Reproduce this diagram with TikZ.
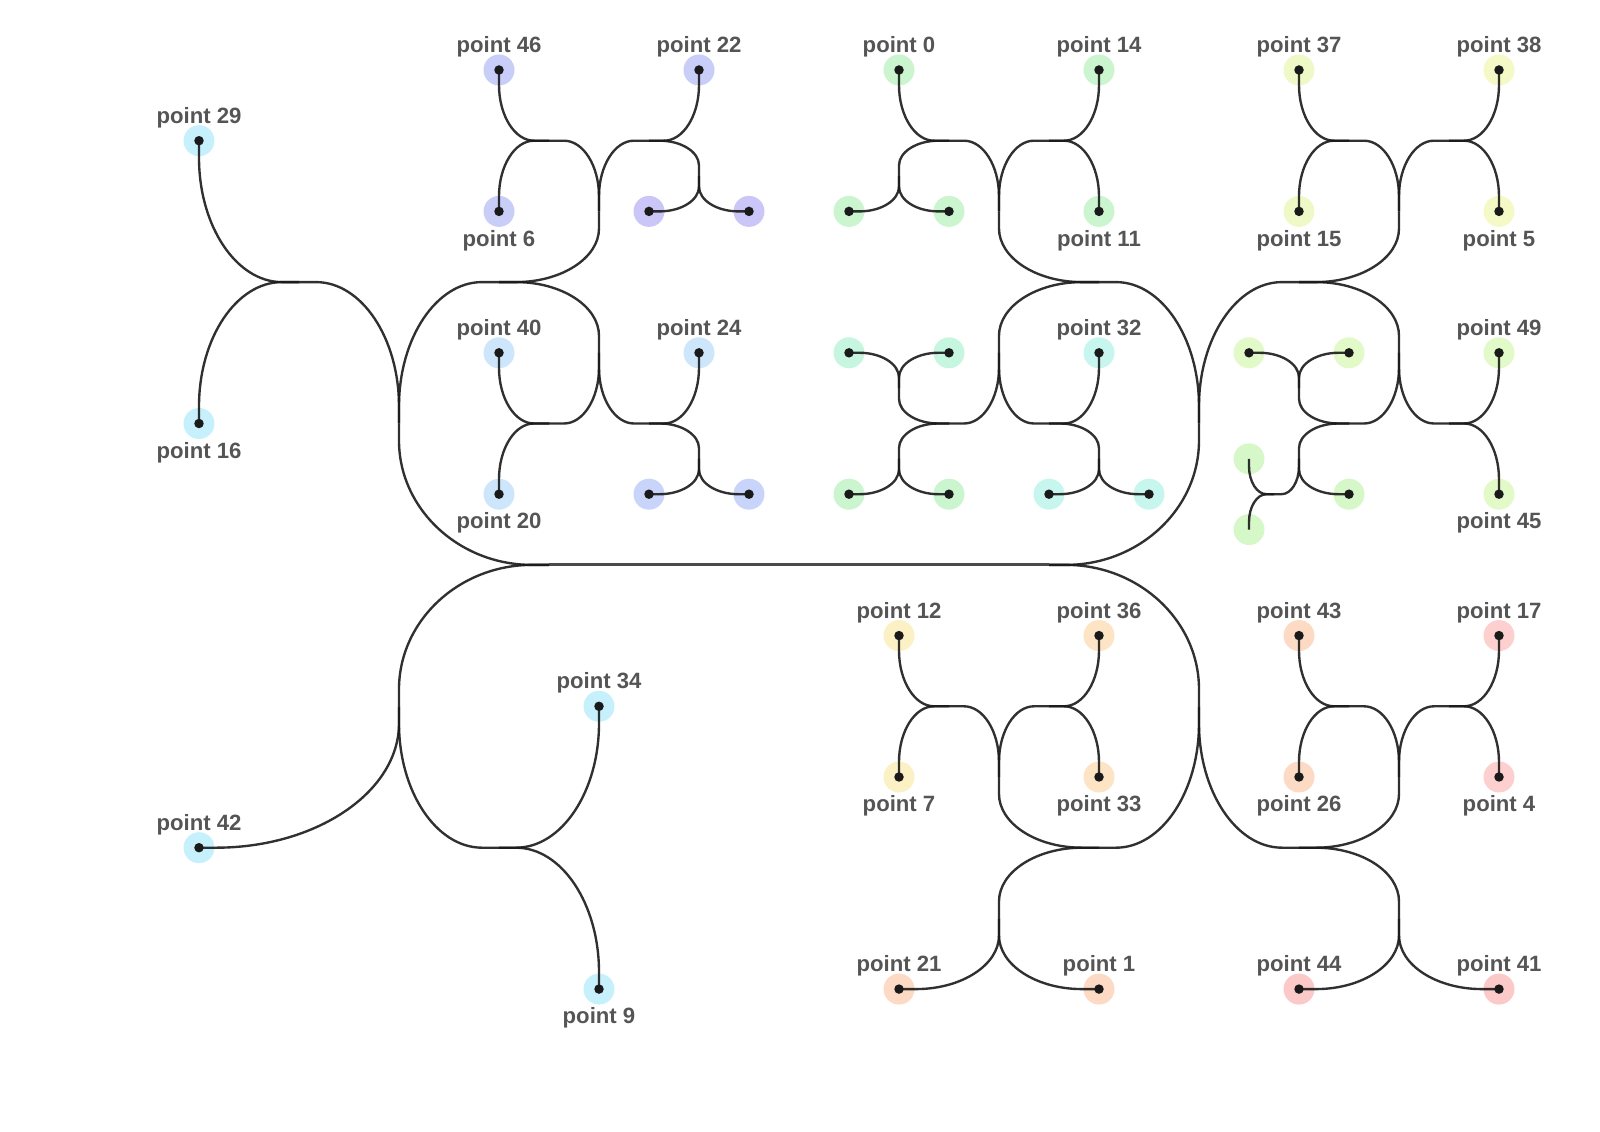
\documentclass[tikz,border=0pt]{standalone}
\usepackage{fontspec}
\setmainfont{Liberation Sans}
\usetikzlibrary{calc}

\definecolor{linkcol}{HTML}{1A1A1A}
\definecolor{rootcol}{HTML}{4A4A4A}
\definecolor{lblcol}{HTML}{555555}
\definecolor{hcyan}{HTML}{C6F0FB}
\definecolor{hlav}{HTML}{C9CEF9}
\definecolor{hpur}{HTML}{CBC6F8}
\definecolor{hsky}{HTML}{CDE6FB}
\definecolor{hperi}{HTML}{C9D4FA}
\definecolor{hgreen}{HTML}{CAF5CF}
\definecolor{hmint}{HTML}{C6F6DF}
\definecolor{hteal}{HTML}{C6F6EE}
\definecolor{hlime}{HTML}{EFF9C8}
\definecolor{hyell}{HTML}{F5F9C6}
\definecolor{hlgreen}{HTML}{E2F9C8}
\definecolor{hkgreen}{HTML}{D6F8C9}
\definecolor{hsand}{HTML}{FCF1C4}
\definecolor{hpeach}{HTML}{FDE4C4}
\definecolor{horange}{HTML}{FDDAC4}
\definecolor{hpink}{HTML}{FDD0CF}
\definecolor{hred}{HTML}{FCC9C9}

\def\stubmax{0.34cm}
% link that leaves #1 horizontally and reaches #2 vertically
\newcommand{\hvlink}[2]{%
  \draw[link] let \p1=(#1.center), \p2=(#2.center), \p3=(\x2,\y1),
    \n1={min(\stubmax,0.3*min(abs((\x2)-(\x1)),abs((\y2)-(\y1))))} in
    (\p1) -- ($(\p1)!\n1!(\p3)$)
    .. controls ($(\p1)!\n1!(\p3)!0.55!(\p3)$) and ($(\p2)!\n1!(\p3)!0.55!(\p3)$)
    .. ($(\p2)!\n1!(\p3)$) -- (\p2);}
% link that leaves #1 vertically and reaches #2 horizontally
\newcommand{\vhlink}[2]{%
  \draw[link] let \p1=(#1.center), \p2=(#2.center), \p3=(\x1,\y2),
    \n1={min(\stubmax,0.3*min(abs((\x2)-(\x1)),abs((\y2)-(\y1))))} in
    (\p1) -- ($(\p1)!\n1!(\p3)$)
    .. controls ($(\p1)!\n1!(\p3)!0.55!(\p3)$) and ($(\p2)!\n1!(\p3)!0.55!(\p3)$)
    .. ($(\p2)!\n1!(\p3)$) -- (\p2);}

\begin{document}
\begin{tikzpicture}
[
	x=1cm, y=-1.414cm,
	link/.style={draw=linkcol, line width=1.35pt, draw opacity=0.9},
	trunk/.style={draw=rootcol, line width=1.7pt},
	dotpt/.style={circle, inner sep=0pt, minimum size=0.62cm, fill=#1,
		path picture={\fill[linkcol] (path picture bounding box.center) circle (0.095cm);}},
	hollowpt/.style={circle, inner sep=0pt, minimum size=0.62cm, fill=#1},
	lbl/.style={font=\bfseries\fontsize{12.6}{14}\selectfont, text=lblcol, inner sep=0pt},
	lblup/.style={label={[lbl, label distance=-0.07cm]above:#1}},
	lbldn/.style={label={[lbl, label distance=0.05cm]below:#1}}
]
	\useasboundingbox (-3.98,-0.99) rectangle (28.02,15.02);

	% left column
	\node[dotpt=hcyan, lblup={point 29}] (p29) at (0,1) {};
	\node[dotpt=hcyan, lbldn={point 16}] (p16) at (0,5) {};
	\node[dotpt=hcyan, lblup={point 42}] (p42) at (0,11) {};
	\node[dotpt=hcyan, lblup={point 34}] (p34) at (8,9) {};
	\node[dotpt=hcyan, lbldn={point 9}] (p9) at (8,13) {};

	% blue groups
	\node[dotpt=hlav, lblup={point 46}] (p46) at (6,0) {};
	\node[dotpt=hlav, lblup={point 22}] (p22) at (10,0) {};
	\node[dotpt=hlav, lbldn={point 6}] (p6) at (6,2) {};
	\node[dotpt=hpur] (ua) at (9,2) {};
	\node[dotpt=hpur] (ub) at (11,2) {};
	\node[dotpt=hsky, lblup={point 40}] (p40) at (6,4) {};
	\node[dotpt=hsky, lblup={point 24}] (p24) at (10,4) {};
	\node[dotpt=hsky, lbldn={point 20}] (p20) at (6,6) {};
	\node[dotpt=hperi] (va) at (9,6) {};
	\node[dotpt=hperi] (vb) at (11,6) {};

	% green groups
	\node[dotpt=hgreen, lblup={point 0}] (p0) at (14,0) {};
	\node[dotpt=hgreen, lblup={point 14}] (p14) at (18,0) {};
	\node[dotpt=hgreen, lbldn={point 11}] (p11) at (18,2) {};
	\node[dotpt=hgreen] (ga) at (13,2) {};
	\node[dotpt=hgreen] (gb) at (15,2) {};
	\node[dotpt=hmint] (ma) at (13,4) {};
	\node[dotpt=hmint] (mb) at (15,4) {};
	\node[dotpt=hgreen] (na) at (13,6) {};
	\node[dotpt=hgreen] (nb) at (15,6) {};
	\node[dotpt=hteal, lblup={point 32}] (p32) at (18,4) {};
	\node[dotpt=hteal] (ca) at (17,6) {};
	\node[dotpt=hteal] (cb) at (19,6) {};

	% yellow groups
	\node[dotpt=hlime, lblup={point 37}] (p37) at (22,0) {};
	\node[dotpt=hyell, lblup={point 38}] (p38) at (26,0) {};
	\node[dotpt=hlime, lbldn={point 15}] (p15) at (22,2) {};
	\node[dotpt=hyell, lbldn={point 5}] (p5) at (26,2) {};
	\node[dotpt=hlgreen] (ka) at (21,4) {};
	\node[dotpt=hlgreen] (kb) at (23,4) {};
	\node[dotpt=hkgreen] (kd) at (23,6) {};
	\node[hollowpt=hkgreen] (ke) at (21,5.5) {};
	\node[hollowpt=hkgreen] (kf) at (21,6.5) {};
	\node[dotpt=hlgreen, lblup={point 49}] (p49) at (26,4) {};
	\node[dotpt=hlgreen, lbldn={point 45}] (p45) at (26,6) {};

	% orange and red groups
	\node[dotpt=hsand, lblup={point 12}] (p12) at (14,8) {};
	\node[dotpt=hpeach, lblup={point 36}] (p36) at (18,8) {};
	\node[dotpt=hsand, lbldn={point 7}] (p7) at (14,10) {};
	\node[dotpt=hpeach, lbldn={point 33}] (p33) at (18,10) {};
	\node[dotpt=horange, lblup={point 21}] (p21) at (14,13) {};
	\node[dotpt=horange, lblup={point 1}] (p1) at (18,13) {};
	\node[dotpt=horange, lblup={point 43}] (p43) at (22,8) {};
	\node[dotpt=hpink, lblup={point 17}] (p17) at (26,8) {};
	\node[dotpt=horange, lbldn={point 26}] (p26) at (22,10) {};
	\node[dotpt=hpink, lbldn={point 4}] (p4) at (26,10) {};
	\node[dotpt=hred, lblup={point 44}] (p44) at (22,13) {};
	\node[dotpt=hred, lblup={point 41}] (p41) at (26,13) {};

	% junctions
	\coordinate (root) at (12,7);
	\coordinate (jL) at (7,7);
	\coordinate (jM) at (17,7);
	\coordinate (jQ) at (4,5);
	\coordinate (jB) at (2,3);
	\coordinate (jPA) at (6,3);
	\coordinate (jA12) at (8,2);
	\coordinate (jA1) at (7,1);
	\coordinate (jA2) at (9,1);
	\coordinate (jA3) at (10,1.5);
	\coordinate (jC12) at (8,4);
	\coordinate (jC1) at (7,5);
	\coordinate (jC2) at (9,5);
	\coordinate (jC3) at (10,5.5);
	\coordinate (jJ) at (4,9);
	\coordinate (jS) at (6,11);
	\coordinate (jK) at (20,5);
	\coordinate (jPG) at (18,3);
	\coordinate (jG12) at (16,2);
	\coordinate (jG1) at (15,1);
	\coordinate (jG2) at (17,1);
	\coordinate (jB1) at (14,1.5);
	\coordinate (jT) at (16,4);
	\coordinate (jT1) at (15,5);
	\coordinate (jT1a) at (14,4.5);
	\coordinate (jT1b) at (14,5.5);
	\coordinate (jT2) at (17,5);
	\coordinate (jT2b) at (18,5.5);
	\coordinate (jH) at (22,3);
	\coordinate (jY12) at (24,2);
	\coordinate (jY1) at (23,1);
	\coordinate (jY2) at (25,1);
	\coordinate (jE) at (24,4);
	\coordinate (jF) at (25,5);
	\coordinate (jD12) at (23,5);
	\coordinate (jD1) at (22,4.5);
	\coordinate (jD2) at (22,5.5);
	\coordinate (jD3) at (21.5,6);
	\coordinate (jN) at (20,9);
	\coordinate (jO) at (18,11);
	\coordinate (jO12a) at (16,10);
	\coordinate (jO1) at (15,9);
	\coordinate (jO2) at (17,9);
	\coordinate (jO12b) at (16,12);
	\coordinate (jR) at (22,11);
	\coordinate (jR12a) at (24,10);
	\coordinate (jR1) at (23,9);
	\coordinate (jR2) at (25,9);
	\coordinate (jR12b) at (24,12);

	% trunk
	\draw[trunk] (root) -- (jL);
	\draw[trunk] (root) -- (jM);

	% left half
	\hvlink{jL}{jQ} \hvlink{jL}{jJ}
	\vhlink{jQ}{jB} \vhlink{jQ}{jPA}
	\hvlink{jB}{p29} \hvlink{jB}{p16}
	\hvlink{jPA}{jA12} \hvlink{jPA}{jC12}
	\vhlink{jA12}{jA1} \vhlink{jA12}{jA2}
	\hvlink{jA1}{p46} \hvlink{jA1}{p6}
	\hvlink{jA2}{p22} \hvlink{jA2}{jA3}
	\vhlink{jA3}{ua} \vhlink{jA3}{ub}
	\vhlink{jC12}{jC1} \vhlink{jC12}{jC2}
	\hvlink{jC1}{p40} \hvlink{jC1}{p20}
	\hvlink{jC2}{p24} \hvlink{jC2}{jC3}
	\vhlink{jC3}{va} \vhlink{jC3}{vb}
	\vhlink{jJ}{p42} \vhlink{jJ}{jS}
	\hvlink{jS}{p34} \hvlink{jS}{p9}

	% right half, top
	\hvlink{jM}{jK} \hvlink{jM}{jN}
	\vhlink{jK}{jPG} \vhlink{jK}{jH}
	\hvlink{jPG}{jG12} \hvlink{jPG}{jT}
	\vhlink{jG12}{jG1} \vhlink{jG12}{jG2}
	\hvlink{jG1}{p0} \hvlink{jG1}{jB1}
	\vhlink{jB1}{ga} \vhlink{jB1}{gb}
	\hvlink{jG2}{p14} \hvlink{jG2}{p11}
	\vhlink{jT}{jT1} \vhlink{jT}{jT2}
	\hvlink{jT1}{jT1a} \hvlink{jT1}{jT1b}
	\vhlink{jT1a}{ma} \vhlink{jT1a}{mb}
	\vhlink{jT1b}{na} \vhlink{jT1b}{nb}
	\hvlink{jT2}{p32} \hvlink{jT2}{jT2b}
	\vhlink{jT2b}{ca} \vhlink{jT2b}{cb}
	\hvlink{jH}{jY12} \hvlink{jH}{jE}
	\vhlink{jY12}{jY1} \vhlink{jY12}{jY2}
	\hvlink{jY1}{p37} \hvlink{jY1}{p15}
	\hvlink{jY2}{p38} \hvlink{jY2}{p5}
	\vhlink{jE}{jD12} \vhlink{jE}{jF}
	\hvlink{jF}{p49} \hvlink{jF}{p45}
	\hvlink{jD12}{jD1} \hvlink{jD12}{jD2}
	\vhlink{jD1}{ka} \vhlink{jD1}{kb}
	\vhlink{jD2}{jD3} \vhlink{jD2}{kd}
	\hvlink{jD3}{ke} \hvlink{jD3}{kf}

	% right half, bottom
	\vhlink{jN}{jO} \vhlink{jN}{jR}
	\hvlink{jO}{jO12a} \hvlink{jO}{jO12b}
	\vhlink{jO12a}{jO1} \vhlink{jO12a}{jO2}
	\hvlink{jO1}{p12} \hvlink{jO1}{p7}
	\hvlink{jO2}{p36} \hvlink{jO2}{p33}
	\vhlink{jO12b}{p21} \vhlink{jO12b}{p1}
	\hvlink{jR}{jR12a} \hvlink{jR}{jR12b}
	\vhlink{jR12a}{jR1} \vhlink{jR12a}{jR2}
	\hvlink{jR1}{p43} \hvlink{jR1}{p26}
	\hvlink{jR2}{p17} \hvlink{jR2}{p4}
	\vhlink{jR12b}{p44} \vhlink{jR12b}{p41}

\end{tikzpicture}
\end{document}
